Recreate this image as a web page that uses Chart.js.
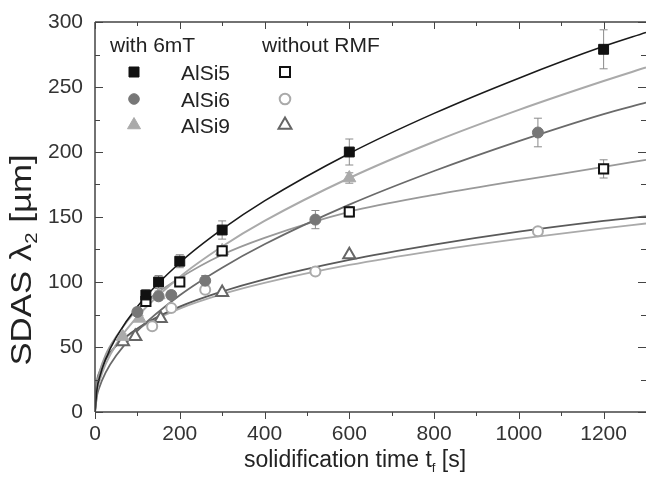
<!DOCTYPE html>
<html>
<head>
<meta charset="utf-8">
<script src="https://cdn.jsdelivr.net/npm/chart.js@4.4.1/dist/chart.umd.min.js"></script>
<style>
  html, body { margin: 0; padding: 0; background: #fff; }
  #wrap { width: 646px; height: 494px; }
</style>
</head>
<body>
<div id="wrap"><canvas id="sdas" width="646" height="494"></canvas></div>
<script>
// fit curves
const fitT = [0, 5, 10, 25, 50, 100, 200, 300, 400, 600, 800, 1000, 1200, 1300];
const fitAlSi5_6mT = [0, 18.2, 25.7, 40.6, 57.4, 81.2, 114.8, 140.6, 162.4, 198.9, 229.7, 256.8, 281.3, 292.0];
const fitAlSi9_6mT = [0, 16.4, 23.2, 36.8, 52.0, 73.5, 103.9, 127.3, 147.0, 180.0, 207.9, 232.4, 254.6, 265.0];
const fitAlSi6_6mT = [0, 13.0, 18.7, 30.3, 43.5, 62.5, 89.8, 111.0, 129.0, 159.5, 185.4, 208.4, 229.2, 238.0];
const fitAlSi5_noRMF = [0, 22.0, 30.0, 44.0, 58.0, 79.0, 103.0, 121.0, 134.0, 154.0, 167.0, 178.0, 188.5, 194.0];
const fitAlSi9_noRMF = [0, 23.6, 29.8, 40.4, 51.0, 64.3, 81.0, 92.7, 102.1, 117.0, 128.7, 138.7, 147.0, 150.5];
const fitAlSi6_noRMF = [0, 24.4, 30.5, 40.9, 51.1, 63.7, 79.5, 90.6, 99.3, 113.1, 124.0, 133.2, 141.2, 145.0];

// measured points
const tAlSi5_6mT = [120, 150, 200, 300, 600, 1200];
const vAlSi5_6mT = [90, 100, 116, 140, 200, 279];
const eAlSi5_6mT = [4, 5, 5, 7, 10, 15];
const tAlSi5_noRMF = [120, 200, 300, 600, 1200];
const vAlSi5_noRMF = [85, 100, 124, 154, 187];
const eAlSi5_noRMF = [2, 3, 3, 4, 7];
const tAlSi6_6mT = [100, 150, 180, 260, 520, 1045];
const vAlSi6_6mT = [77, 89, 90, 101, 148, 215];
const eAlSi6_6mT = [3, 3, 3, 4, 7, 11];
const tAlSi6_noRMF = [135, 180, 260, 520, 1045];
const vAlSi6_noRMF = [66, 80, 94, 108, 139];
const tAlSi9_6mT = [65, 105, 150, 300, 600];
const vAlSi9_6mT = [58, 72, 90, 124, 180];
const eAlSi9_6mT = [2, 2, 3, 3, 4];
const tAlSi9_noRMF = [66, 95, 155, 300, 600];
const vAlSi9_noRMF = [54, 58, 72, 92, 121];

const xTicks = [0, 200, 400, 600, 800, 1000, 1200];
const yTicks = [0, 50, 100, 150, 200, 250, 300];

const FONT = '"Liberation Sans", Arial, sans-serif';

function pts(t, v) {
    return t.map(function (x, i) { return { x: x, y: v[i] }; });
}

function fitSet(vals, color, w) {
    return {
        type: 'line',
        data: pts(fitT, vals),
        borderColor: color,
        borderWidth: w,
        pointRadius: 0,
        fill: false,
        cubicInterpolationMode: 'monotone',
        order: 2
    };
}

function markSet(t, v, style, r, fillCol, lineCol, err) {
    return {
        type: 'scatter',
        data: pts(t, v),
        pointStyle: style,
        pointRadius: r,
        pointBackgroundColor: fillCol,
        pointBorderColor: lineCol,
        pointBorderWidth: fillCol === '#ffffff' ? 2 : 1,
        showLine: false,
        err: err,
        order: 1
    };
}

// error bars under the markers
const errorBars = {
    id: 'errorBars',
    beforeDatasetsDraw(chart) {
        const ctx = chart.ctx, ys = chart.scales.y;
        chart.data.datasets.forEach(function (ds, i) {
            if (!ds.err) return;
            const meta = chart.getDatasetMeta(i);
            ctx.save();
            ctx.strokeStyle = '#8a8a8a';
            ctx.lineWidth = 1;
            meta.data.forEach(function (p, j) {
                const top = ys.getPixelForValue(ds.data[j].y + ds.err[j]);
                const bot = ys.getPixelForValue(ds.data[j].y - ds.err[j]);
                ctx.beginPath();
                ctx.moveTo(p.x, top); ctx.lineTo(p.x, bot);
                ctx.moveTo(p.x - 4, top); ctx.lineTo(p.x + 4, top);
                ctx.moveTo(p.x - 4, bot); ctx.lineTo(p.x + 4, bot);
                ctx.stroke();
            });
            ctx.restore();
        });
    }
};

function drawMark(ctx, style, x, y, fillCol, lineCol) {
    ctx.save();
    ctx.beginPath();
    if (style === 'rect') {
        ctx.rect(x - 5, y - 5, 10, 10);
    } else if (style === 'circle') {
        ctx.arc(x, y, 5.3, 0, Math.PI * 2);
    } else {
        ctx.moveTo(x, y - 7.5);
        ctx.lineTo(x + 6.5, y + 3.75);
        ctx.lineTo(x - 6.5, y + 3.75);
        ctx.closePath();
    }
    ctx.fillStyle = fillCol;
    ctx.fill();
    ctx.strokeStyle = lineCol;
    ctx.lineWidth = fillCol === '#ffffff' ? 2 : 1;
    ctx.stroke();
    ctx.restore();
}

// frame, minor ticks, legend and axis titles
const decor = {
    id: 'decor',
    afterDraw(chart) {
        const ctx = chart.ctx, a = chart.chartArea;
        const xs = chart.scales.x, ys = chart.scales.y;
        ctx.save();
        ctx.strokeStyle = '#444';
        ctx.lineWidth = 1.5;
        ctx.beginPath();
        ctx.moveTo(a.left, a.top); ctx.lineTo(a.right, a.top);
        ctx.moveTo(a.left, a.top); ctx.lineTo(a.left, a.bottom);
        ctx.moveTo(a.left, a.bottom); ctx.lineTo(a.right, a.bottom);
        ctx.stroke();
        ctx.lineWidth = 1;
        ctx.beginPath();
        for (let v = 0; v <= 1300; v += 100) {
            const px = Math.round(xs.getPixelForValue(v)) + 0.5;
            const len = v % 200 === 0 ? 7 : 4;
            ctx.moveTo(px, a.bottom); ctx.lineTo(px, a.bottom + len);
            ctx.moveTo(px, a.top); ctx.lineTo(px, a.top + len);
        }
        for (let v = 0; v <= 300; v += 25) {
            const py = Math.round(ys.getPixelForValue(v)) + 0.5;
            const len = v % 50 === 0 ? 8 : 5;
            ctx.moveTo(a.left, py); ctx.lineTo(a.left + len, py);
            ctx.moveTo(a.right, py); ctx.lineTo(a.right - len, py);
        }
        ctx.stroke();

        // legend
        ctx.fillStyle = '#222';
        ctx.font = '21px ' + FONT;
        ctx.textBaseline = 'alphabetic';
        ctx.textAlign = 'left';
        ctx.fillText('with 6mT', 110, 52);
        ctx.fillText('without RMF', 262, 52);
        const rows = [
            ['AlSi5', 'rect', '#111111', '#111111', '#ffffff', '#111111'],
            ['AlSi6', 'circle', '#777777', '#777777', '#ffffff', '#aaaaaa'],
            ['AlSi9', 'triangle', '#aaaaaa', '#aaaaaa', '#ffffff', '#666666']
        ];
        const rowY = [72, 99, 125];
        rows.forEach(function (r, i) {
            drawMark(ctx, r[1], 134, rowY[i], r[2], r[3]);
            drawMark(ctx, r[1], 285, rowY[i], r[4], r[5]);
            ctx.fillStyle = '#222';
            ctx.fillText(r[0], 181, rowY[i] + 8);
        });

        // x title with subscript
        const p1 = 'solidification time t', p3 = ' [s]';
        ctx.font = '23px ' + FONT;
        const w1 = ctx.measureText(p1).width, w3 = ctx.measureText(p3).width;
        ctx.font = '13px ' + FONT;
        const w2 = ctx.measureText('f').width;
        let x0 = 355 - (w1 + w2 + w3) / 2;
        ctx.font = '23px ' + FONT;
        ctx.fillText(p1, x0, 467);
        ctx.font = '13px ' + FONT;
        ctx.fillText('f', x0 + w1, 472);
        ctx.font = '23px ' + FONT;
        ctx.fillText(p3, x0 + w1 + w2, 467);

        // y title, rotated and a little stretched along the text, with subscript
        ctx.translate(31, 260);
        ctx.rotate(-Math.PI / 2);
        ctx.scale(1.2, 1);
        const q1 = 'SDAS \u03BB', q3 = ' [\u00B5m]';
        ctx.font = '29px ' + FONT;
        const u1 = ctx.measureText(q1).width, u3 = ctx.measureText(q3).width;
        ctx.font = '17px ' + FONT;
        const u2 = ctx.measureText('2').width;
        let y0 = -(u1 + u2 + u3) / 2;
        ctx.font = '29px ' + FONT;
        ctx.fillText(q1, y0, 0);
        ctx.font = '17px ' + FONT;
        ctx.fillText('2', y0 + u1, 6);
        ctx.font = '29px ' + FONT;
        ctx.fillText(q3, y0 + u1 + u2, 0);
        ctx.restore();
    }
};

const datasets = [
    fitSet(fitAlSi5_6mT, '#1a1a1a', 1.6),
    fitSet(fitAlSi9_6mT, '#aaaaaa', 2),
    fitSet(fitAlSi6_6mT, '#6a6a6a', 1.8),
    fitSet(fitAlSi5_noRMF, '#999999', 1.8),
    fitSet(fitAlSi9_noRMF, '#5a5a5a', 1.8),
    fitSet(fitAlSi6_noRMF, '#aaaaaa', 1.8),
    markSet(tAlSi5_6mT, vAlSi5_6mT, 'rect', 7, '#111111', '#111111', eAlSi5_6mT),
    markSet(tAlSi5_noRMF, vAlSi5_noRMF, 'rect', 6.5, '#ffffff', '#111111', eAlSi5_noRMF),
    markSet(tAlSi6_6mT, vAlSi6_6mT, 'circle', 5.5, '#777777', '#777777', eAlSi6_6mT),
    markSet(tAlSi6_noRMF, vAlSi6_noRMF, 'circle', 5, '#ffffff', '#aaaaaa', null),
    markSet(tAlSi9_6mT, vAlSi9_6mT, 'triangle', 7.5, '#aaaaaa', '#aaaaaa', eAlSi9_6mT),
    markSet(tAlSi9_noRMF, vAlSi9_noRMF, 'triangle', 7, '#ffffff', '#666666', null)
];

new Chart(document.getElementById('sdas').getContext('2d'), {
    data: { datasets: datasets },
    options: {
        responsive: false,
        animation: false,
        devicePixelRatio: 1,
        layout: { autoPadding: false, padding: { top: 22, right: 0, left: 0, bottom: 0 } },
        plugins: { legend: { display: false }, tooltip: { enabled: false } },
        scales: {
            x: {
                type: 'linear',
                min: 0,
                max: 1300,
                afterBuildTicks: function (s) { s.ticks = xTicks.map(function (v) { return { value: v }; }); },
                afterFit: function (s) { s.height = 82; s.paddingLeft = 0; s.paddingRight = 0; },
                grid: { display: false, drawTicks: false },
                border: { display: false },
                ticks: {
                    color: '#333', font: { family: FONT, size: 21 }, padding: 10, maxRotation: 0,
                    callback: function (v) { return String(v); }
                }
            },
            y: {
                type: 'linear',
                min: 0,
                max: 300,
                afterBuildTicks: function (s) { s.ticks = yTicks.map(function (v) { return { value: v }; }); },
                afterFit: function (s) { s.width = 95; s.paddingTop = 0; s.paddingBottom = 0; },
                grid: { display: false, drawTicks: false },
                border: { display: false },
                ticks: {
                    color: '#333', font: { family: FONT, size: 21 }, padding: 12,
                    callback: function (v) { return String(v); }
                }
            }
        }
    },
    plugins: [errorBars, decor]
});
</script>
</body>
</html>
